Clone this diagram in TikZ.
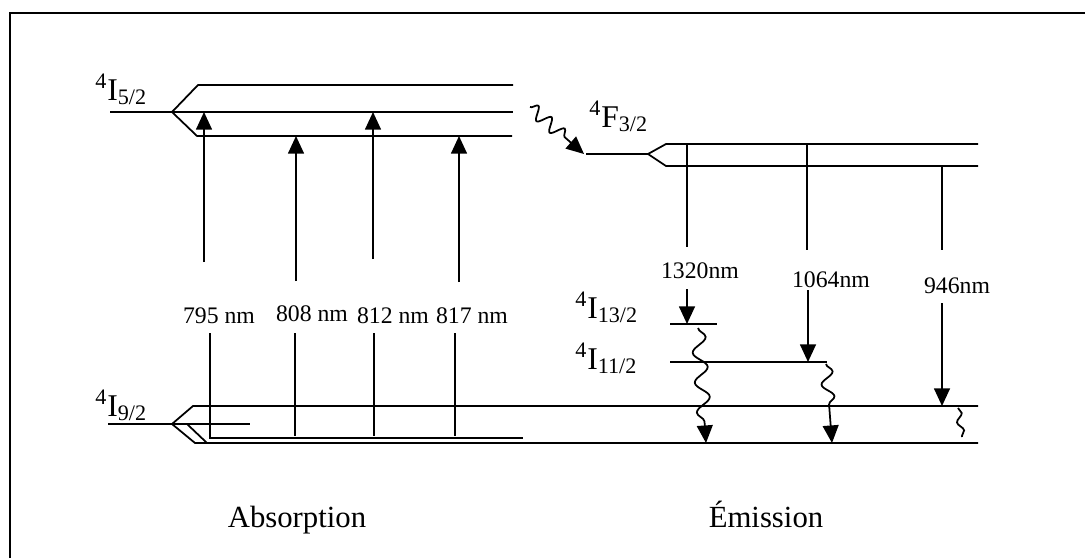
\documentclass[tikz,border=0pt]{standalone}
\usepackage{fontspec}
\setmainfont{Liberation Serif}
\usepackage{tikz}
\usetikzlibrary{arrows.meta,decorations.pathmorphing}

\begin{document}
\begin{tikzpicture}[
  x=0.02cm, y=-0.02cm,
  >={Triangle[length=10pt,width=9pt]},
  lvl/.style={line width=1pt},
  arr/.style={->, line width=1pt},
  wav/.style={line width=1pt, decorate,
    decoration={snake, amplitude=#1, segment length=5mm}},
  term/.style={font=\fontsize{18}{20}\selectfont, inner sep=0pt, anchor=base west},
  wl/.style={font=\fontsize{13.5}{15}\selectfont, inner sep=0pt, anchor=base},
  captxt/.style={font=\fontsize{17.5}{20}\selectfont, inner sep=0pt, anchor=base},
]
\useasboundingbox (0,0) rectangle (1085,558);
\draw[line width=1.1pt] (10,558) -- (10,13) -- (1085,13);

% ---- levels: 4I5/2 ----
\draw[lvl] (110,112) -- (172,112) -- (198,85) -- (513,85);
\draw[lvl] (172,112) -- (513,112);
\draw[lvl] (172,112) -- (197,136) -- (512,136);

% ---- levels: 4I9/2 ----
\draw[lvl] (108,424) -- (250,424);
\draw[lvl] (172,424) -- (193,406) -- (978,406);
\draw[lvl] (172,424) -- (195,443) -- (978,443);
\draw[lvl] (187,424) -- (207,443);
\draw[lvl] (210,333) -- (210,438) -- (523,438);

% ---- levels: 4F3/2 and lower ones ----
\draw[lvl] (586,154) -- (648,154) -- (666,144) -- (978,144);
\draw[lvl] (648,154) -- (666,166) -- (978,166);
\draw[lvl] (670,324) -- (717,324);
\draw[lvl] (670,362) -- (827,362);

% ---- term labels ----
\node[term] (t52) at (95,100) {\textsuperscript{4}I\textsubscript{5/2}};
\node[term] (t92) at (95,416) {\textsuperscript{4}I\textsubscript{9/2}};
\node[term] (t32) at (589,127) {\textsuperscript{4}F\textsubscript{3/2}};
\node[term] (t132) at (575,318) {\textsuperscript{4}I\textsubscript{13/2}};
\node[term] (t112) at (575,369) {\textsuperscript{4}I\textsubscript{11/2}};

% ---- absorption ----
\node[wl] (w795) at (219,323) {795 nm};
\node[wl] (w808) at (312,321) {808 nm};
\node[wl] (w812) at (393,323) {812 nm};
\node[wl] (w817) at (472,323) {817 nm};

\coordinate (a795) at (204,262);
\coordinate (b795) at (204,112);
\coordinate (a808) at (296,281);
\coordinate (b808) at (296,136);
\coordinate (a812) at (373,259);
\coordinate (b812) at (373,112);
\coordinate (a817) at (459,282);
\coordinate (b817) at (459,136);
\draw[arr] (a795) -- (b795);
\draw[arr] (a808) -- (b808);
\draw[arr] (a812) -- (b812);
\draw[arr] (a817) -- (b817);

\coordinate (c808) at (295,333);
\coordinate (d808) at (295,436);
\coordinate (c812) at (374,333);
\coordinate (d812) at (374,436);
\coordinate (c817) at (455,333);
\coordinate (d817) at (455,436);
\draw[lvl] (c808) -- (d808);
\draw[lvl] (c812) -- (d812);
\draw[lvl] (c817) -- (d817);

% relaxation 4I5/2 -> 4F3/2
\coordinate (r0) at (530,107);
\coordinate (r1) at (584,154);
\draw[arr, wav=1.3mm, decoration={segment length=3.5mm, post length=4mm}] (r0) -- (r1);

% ---- emission ----
\node[wl] (w1320) at (700,278) {1320nm};
\node[wl] (w1064) at (831,287) {1064nm};
\node[wl] (w946) at (957,293) {946nm};

\coordinate (e1320) at (687,144);
\coordinate (f1320) at (687,247);
\coordinate (e1064) at (807,144);
\coordinate (f1064) at (807,250);
\coordinate (e946) at (942,166);
\coordinate (f946) at (942,250);
\draw[lvl] (e1320) -- (f1320);
\draw[lvl] (e1064) -- (f1064);
\draw[lvl] (e946) -- (f946);

\coordinate (g1320) at (687,289);
\coordinate (h1320) at (687,324);
\coordinate (g1064) at (808,290);
\coordinate (h1064) at (808,362);
\coordinate (g946) at (942,303);
\coordinate (h946) at (942,406);
\draw[arr] (g1320) -- (h1320);
\draw[arr] (g1064) -- (h1064);
\draw[arr] (g946) -- (h946);

% non-radiative decays
\coordinate (n1) at (698,328);
\coordinate (m1) at (706,443);
\coordinate (n2) at (826,364);
\coordinate (m2) at (832,443);
\coordinate (n3) at (958,408);
\coordinate (m3) at (962,437);
\draw[arr, wav=1.4mm, decoration={segment length=6mm, post length=4mm}] (n1) -- (m1);
\draw[arr, wav=1.2mm, decoration={segment length=5mm, post length=6mm}] (n2) -- (m2);
\draw[wav=0.6mm, decoration={segment length=3.5mm}] (n3) -- (m3);

% ---- captions ----
\node[captxt] (abs) at (297,527) {Absorption};
\node[captxt] (emi) at (766,527) {Émission};
\end{tikzpicture}
\end{document}
